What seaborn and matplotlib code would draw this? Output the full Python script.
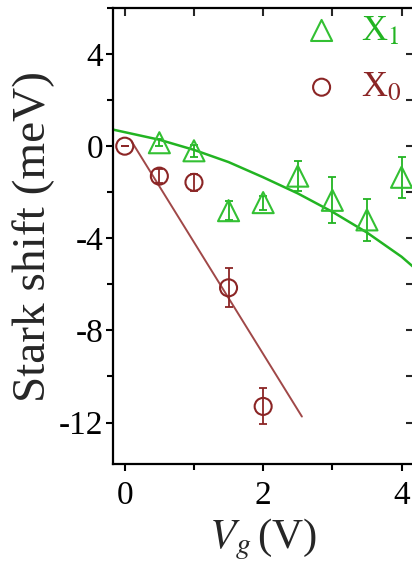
import matplotlib
matplotlib.use("Agg")
import matplotlib.pyplot as plt
import seaborn as sns
import pandas as pd
from matplotlib.ticker import MultipleLocator

# ---- data ----
x1_v = [0.5, 1.0, 1.5, 2.0, 2.5, 3.0, 3.5, 4.0]
x1_shift = [0.15, -0.2, -2.8, -2.45, -1.3, -2.35, -3.2, -1.35]
x1_err = [0.15, 0.25, 0.4, 0.3, 0.65, 1.0, 0.9, 0.9]

x0_v = [0.0, 0.5, 1.0, 1.5, 2.0]
x0_shift = [0.0, -1.3, -1.57, -6.15, -11.3]
x0_err = [0.0, 0.3, 0.38, 0.85, 0.78]

x1_fit_v = [-0.17, 0.5, 1.0, 1.5, 2.0, 2.5, 3.0, 3.5, 4.0, 4.25]
x1_fit_shift = [0.72, 0.28, -0.16, -0.69, -1.35, -2.05, -2.85, -3.75, -4.8, -5.45]

x0_fit_v = [0.1, 2.56]
x0_fit_shift = [0.2, -11.74]

xticks = [0, 2, 4]
yticks = [4, 0, -4, -8, -12]

green = "#22b422"
green_mk = "#33c033"
brown = "#8b2525"
brown_line = "#a04848"

sns.set_theme(style="ticks")
plt.rcParams["font.family"] = ["Liberation Serif", "DejaVu Serif"]
plt.rcParams["mathtext.fontset"] = "stix"

fig = plt.figure(figsize=(4.12, 5.66), dpi=100)
ax = fig.add_axes([113 / 412, 102 / 566, 301 / 412, 456 / 566])

df1 = pd.DataFrame({"Vg": x1_v, "shift": x1_shift, "err": x1_err})
df0 = pd.DataFrame({"Vg": x0_v, "shift": x0_shift, "err": x0_err})
f1 = pd.DataFrame({"Vg": x1_fit_v, "shift": x1_fit_shift})
f0 = pd.DataFrame({"Vg": x0_fit_v, "shift": x0_fit_shift})

sns.lineplot(data=f1, x="Vg", y="shift", ax=ax, color=green, lw=1.8, sort=False)
sns.lineplot(data=f0, x="Vg", y="shift", ax=ax, color=brown_line, lw=1.4, sort=False)

ax.errorbar(df1["Vg"], df1["shift"], yerr=df1["err"], fmt="none",
            ecolor=green, elinewidth=1.3, capsize=3, capthick=1.3)
ax.errorbar(df0["Vg"], df0["shift"], yerr=df0["err"], fmt="none",
            ecolor=brown, elinewidth=1.3, capsize=3, capthick=1.3)

sns.scatterplot(data=df1, x="Vg", y="shift", ax=ax, marker="^", s=230,
                facecolors="none", edgecolor=green_mk, linewidth=1.5,
                label=r"X$_1$", zorder=5)
sns.scatterplot(data=df0, x="Vg", y="shift", ax=ax, marker="o", s=150,
                facecolors="none", edgecolor=brown, linewidth=1.5,
                label=r"X$_0$", zorder=5)

ax.set_xlim(-0.17, 4.18)
ax.set_ylim(-13.8, 6)
ax.set_xticks(xticks)
ax.set_yticks(yticks)
ax.set_yticklabels([str(t) for t in yticks])
ax.xaxis.set_minor_locator(MultipleLocator(1))
ax.yaxis.set_minor_locator(MultipleLocator(2))
ax.tick_params(which="both", direction="out", length=5, width=1.5,
               labelsize=24, colors="black", pad=2)
ax.tick_params(axis="x", pad=7)
ax.tick_params(which="minor", length=4)

for s in ax.spines.values():
    s.set_linewidth(1.6)
    s.set_color("black")

top = ax.secondary_xaxis("top")
top.set_xticks([0, 1, 2, 3, 4])
top.tick_params(direction="in", length=6, width=1.5, labeltop=False)
top.set_xticklabels([])
right = ax.secondary_yaxis("right")
right.set_yticks([4, 2, 0, -2, -4, -6, -8, -10, -12])
right.tick_params(direction="in", length=6, width=1.5, labelright=False)
right.set_yticklabels([])

ax.set_xlabel(r"$V_g\,$(V)", fontsize=31, labelpad=4)
ax.set_ylabel("Stark shift (meV)", fontsize=34, labelpad=3)

leg = ax.legend(loc="upper right", bbox_to_anchor=(1.02, 1.025), frameon=False,
                fontsize=26, handletextpad=0.3, labelspacing=0.65,
                borderaxespad=0.1, handlelength=1.6)
for txt, c in zip(leg.get_texts(), [green, brown]):
    txt.set_color(c)

fig.savefig("out.png", dpi=100)
